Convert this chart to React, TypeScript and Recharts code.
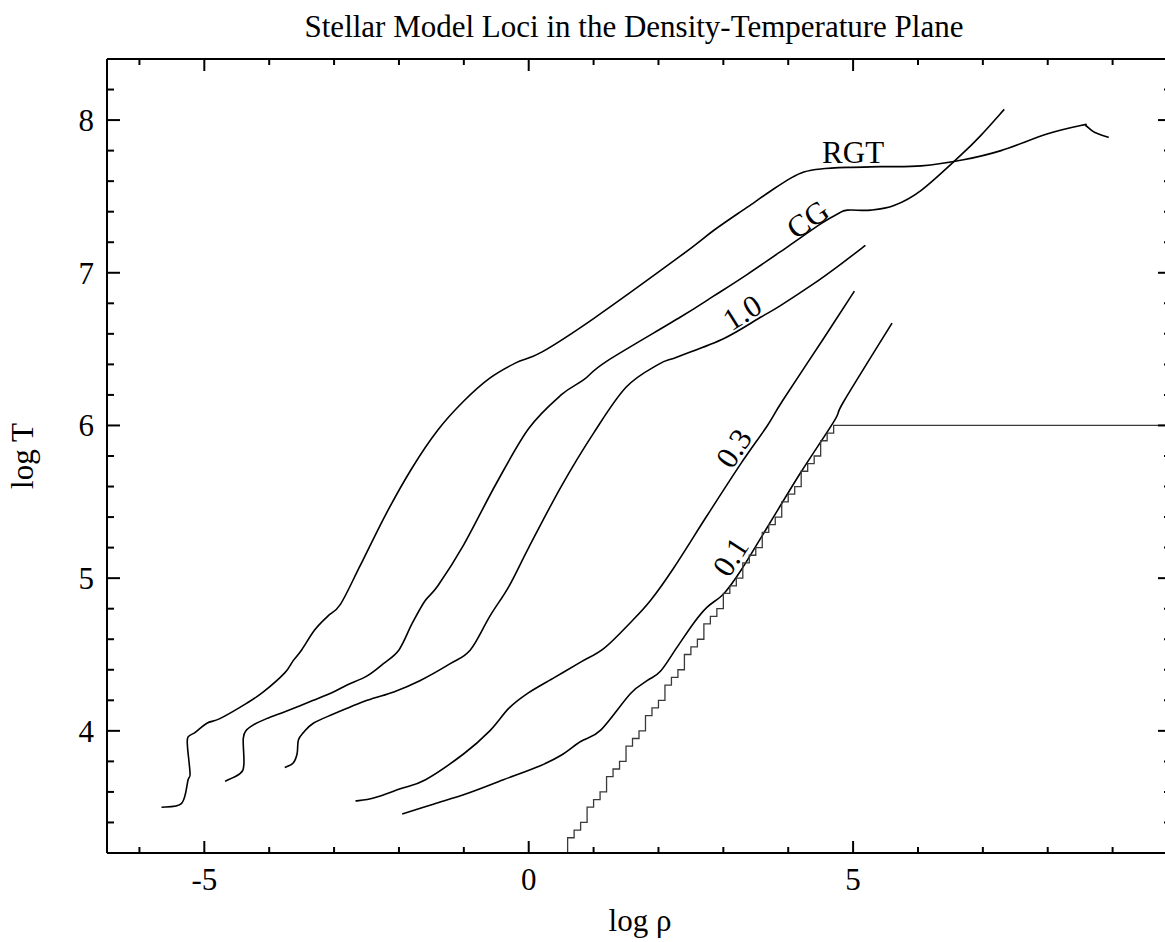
import React from 'react';
import { LineChart, Line, XAxis, YAxis, ReferenceDot } from 'recharts';

// log rho / log T loci
const rgtTrack: [number, number][] = [
  [-5.66, 3.5], [-5.35, 3.525], [-5.25, 3.68], [-5.22, 3.72], [-5.26, 3.9], [-5.25, 3.96],
  [-5.14, 3.99], [-4.96, 4.05], [-4.76, 4.08], [-4.35, 4.18], [-4.09, 4.255], [-3.76, 4.38],
  [-3.63, 4.46], [-3.5, 4.53], [-3.3, 4.66], [-3.1, 4.75], [-2.9, 4.83], [-2.6, 5.08],
  [-2.2, 5.42], [-1.8, 5.72], [-1.4, 5.97], [-1.0, 6.16], [-0.6, 6.31], [-0.2, 6.41],
  [0.2, 6.48], [1.0, 6.7], [2.34, 7.11], [2.86, 7.28], [3.37, 7.43], [3.78, 7.55],
  [4.04, 7.62], [4.24, 7.66], [4.5, 7.68], [4.91, 7.69], [5.43, 7.695], [6.05, 7.7],
  [6.7, 7.74], [7.28, 7.8], [8.0, 7.91], [8.54, 7.967], [8.59, 7.963], [8.72, 7.92], [8.94, 7.886],
];

const cgTrack: [number, number][] = [
  [-4.68, 3.67], [-4.45, 3.72], [-4.39, 3.78], [-4.4, 3.95], [-4.35, 4.005], [-4.24, 4.04],
  [-4.04, 4.08], [-3.73, 4.13], [-3.32, 4.2], [-3.01, 4.255], [-2.8, 4.3], [-2.49, 4.36],
  [-2.24, 4.44], [-2.0, 4.53], [-1.8, 4.7], [-1.6, 4.85], [-1.4, 4.95], [-1.0, 5.22],
  [-0.5, 5.62], [0.0, 5.98], [0.5, 6.2], [0.85, 6.3], [1.2, 6.42], [2.34, 6.71],
  [2.86, 6.85], [3.37, 6.99], [3.99, 7.17], [4.5, 7.32], [4.76, 7.385], [4.91, 7.41],
  [5.27, 7.41], [5.63, 7.44], [6.05, 7.54], [6.66, 7.77], [6.97, 7.9], [7.33, 8.07],
];

const oneTrack: [number, number][] = [
  [-3.76, 3.76], [-3.63, 3.79], [-3.57, 3.85], [-3.55, 3.94], [-3.47, 3.99], [-3.32, 4.05],
  [-3.01, 4.11], [-2.49, 4.2], [-2.08, 4.255], [-1.67, 4.33], [-1.21, 4.44], [-0.9, 4.53],
  [-0.6, 4.75], [-0.3, 4.95], [0.0, 5.2], [0.5, 5.6], [1.0, 5.95], [1.5, 6.25], [2.0, 6.4],
  [2.3, 6.45], [3.01, 6.57], [3.58, 6.71], [3.88, 6.785], [4.4, 6.93], [4.76, 7.04], [5.19, 7.18],
];

const pointThreeTrack: [number, number][] = [
  [-2.67, 3.54], [-2.39, 3.56], [-1.98, 3.62], [-1.59, 3.68], [-1.0, 3.85], [-0.6, 4.0],
  [-0.3, 4.15], [0.0, 4.25], [0.4, 4.35], [0.8, 4.45], [1.16, 4.54], [1.57, 4.71], [1.88, 4.855],
  [2.24, 5.07], [2.75, 5.41], [3.27, 5.75], [3.68, 6.0], [3.91, 6.16], [4.53, 6.56], [5.02, 6.88],
];

const pointOneTrack: [number, number][] = [
  [-1.95, 3.455], [-1.47, 3.52], [-0.95, 3.59], [-0.39, 3.68], [0.17, 3.77], [0.5, 3.84],
  [0.8, 3.93], [1.11, 4.005], [1.57, 4.245], [1.83, 4.33], [2.03, 4.39], [2.29, 4.55],
  [2.55, 4.71], [2.75, 4.81], [3.01, 4.9], [3.27, 5.05], [3.68, 5.335], [4.19, 5.69],
  [4.71, 6.03], [4.86, 6.16], [5.6, 6.67],
];

// stepped boundary (grid-resolved), drawn stepBefore
const boundaryStairs: [number, number][] = [
  [0.6, 3.2], [0.7, 3.3], [0.8, 3.35], [0.9, 3.4], [1.0, 3.5], [1.1, 3.55], [1.2, 3.6],
  [1.3, 3.7], [1.4, 3.75], [1.5, 3.8], [1.6, 3.9], [1.7, 3.95], [1.8, 4.0], [1.9, 4.1],
  [2.0, 4.15], [2.1, 4.2], [2.2, 4.3], [2.3, 4.35], [2.4, 4.4], [2.5, 4.5], [2.6, 4.55],
  [2.7, 4.6], [2.8, 4.7], [2.9, 4.75], [3.0, 4.8], [3.1, 4.9], [3.2, 4.95], [3.3, 5.0],
  [3.4, 5.1], [3.5, 5.15], [3.6, 5.2], [3.7, 5.3], [3.8, 5.35], [3.9, 5.4], [4.0, 5.5],
  [4.1, 5.55], [4.2, 5.6], [4.3, 5.7], [4.4, 5.75], [4.5, 5.8], [4.6, 5.9], [4.7, 5.95],
  [9.9, 6.0],
];

const curveLabels = [
  { text: 'RGT', x: 5.0, y: 7.785, angle: 0 },
  { text: 'CG', x: 4.3, y: 7.35, angle: -35 },
  { text: '1.0', x: 3.29, y: 6.74, angle: -32 },
  { text: '0.3', x: 3.16, y: 5.85, angle: -57 },
  { text: '0.1', x: 3.11, y: 5.14, angle: -57 },
];

const xTicks = [-6, -5, -4, -3, -2, -1, 0, 1, 2, 3, 4, 5, 6, 7, 8, 9];
const yTicks = [3.4, 3.6, 3.8, 4, 4.2, 4.4, 4.6, 4.8, 5, 5.2, 5.4, 5.6, 5.8, 6, 6.2, 6.4, 6.6, 6.8, 7, 7.2, 7.4, 7.6, 7.8, 8, 8.2];

const toRows = (pts: [number, number][]) => pts.map(([x, y]) => ({ x, y }));

const FONT = '"Liberation Serif", "Times New Roman", serif';
const isMajor = (v: number) => Math.abs(v - Math.round(v)) < 1e-6;

// Catmull-Rom style smoothing so the tracks read as curves, not polylines
const smoothCurve = (context: any) => {
  let pts: number[][] = [];
  return {
    areaStart() {},
    areaEnd() {},
    lineStart() {
      pts = [];
    },
    point(x: number, y: number) {
      pts.push([+x, +y]);
    },
    lineEnd() {
      if (!pts.length) return;
      context.moveTo(pts[0][0], pts[0][1]);
      for (let i = 0; i < pts.length - 1; i++) {
        const p0 = pts[i - 1] || pts[i];
        const p1 = pts[i];
        const p2 = pts[i + 1];
        const p3 = pts[i + 2] || p2;
        context.bezierCurveTo(
          p1[0] + (p2[0] - p0[0]) / 6,
          p1[1] + (p2[1] - p0[1]) / 6,
          p2[0] - (p3[0] - p1[0]) / 6,
          p2[1] - (p3[1] - p1[1]) / 6,
          p2[0],
          p2[1],
        );
      }
    },
  };
};

const BottomTick = (props: any) => {
  const { x, y, payload } = props;
  const major = payload.value % 5 === 0;
  return (
    <g>
      <line x1={x} y1={y} x2={x} y2={y - (major ? 12 : 6)} stroke="#000" strokeWidth={2} />
      {major && (
        <text x={x} y={y + 37} textAnchor="middle" fontSize={31} fontFamily={FONT} fill="#000">
          {payload.value}
        </text>
      )}
    </g>
  );
};

const TopTick = (props: any) => {
  const { x, y, payload } = props;
  const major = payload.value % 5 === 0;
  return <line x1={x} y1={y} x2={x} y2={y + (major ? 12 : 6)} stroke="#000" strokeWidth={2} />;
};

const LeftTick = (props: any) => {
  const { x, y, payload } = props;
  const major = isMajor(payload.value);
  return (
    <g>
      <line x1={x} y1={y} x2={x + (major ? 13 : 7)} y2={y} stroke="#000" strokeWidth={2} />
      {major && (
        <text x={x - 13} y={y + 11} textAnchor="end" fontSize={31} fontFamily={FONT} fill="#000">
          {Math.round(payload.value)}
        </text>
      )}
    </g>
  );
};

const RightTick = (props: any) => {
  const { x, y, payload } = props;
  const major = isMajor(payload.value);
  return <line x1={x} y1={y} x2={x - (major ? 13 : 7)} y2={y} stroke="#000" strokeWidth={2} />;
};

const CurveLabel = ({ cx, cy, text, angle }: any) => (
  <text
    x={cx}
    y={cy}
    transform={`rotate(${angle} ${cx} ${cy})`}
    textAnchor="middle"
    dominantBaseline="central"
    fontSize={31}
    fontFamily={FONT}
    fill="#000"
  >
    {text}
  </text>
);

const tracks = [rgtTrack, cgTrack, oneTrack, pointThreeTrack, pointOneTrack];
const frame = { stroke: '#000', strokeWidth: 2 };

export default function App() {
  return (
    <div style={{ position: 'absolute', left: 0, top: 0, width: 1165, height: 942, overflow: 'hidden', background: '#fff' }}>
      <LineChart width={1172} height={942} margin={{ top: 58, right: 0, bottom: 88, left: 106 }}>
        <XAxis
          xAxisId="b"
          type="number"
          dataKey="x"
          domain={[-6.5, 9.9]}
          allowDataOverflow
          ticks={xTicks}
          interval={0}
          height={1}
          tickSize={0}
          tickMargin={0}
          tick={<BottomTick />}
          axisLine={frame}
        />
        <XAxis
          xAxisId="t"
          orientation="top"
          type="number"
          dataKey="x"
          domain={[-6.5, 9.9]}
          allowDataOverflow
          ticks={xTicks}
          interval={0}
          height={1}
          tickSize={0}
          tickMargin={0}
          tick={<TopTick />}
          axisLine={frame}
        />
        <YAxis
          yAxisId="l"
          type="number"
          domain={[3.2, 8.4]}
          allowDataOverflow
          ticks={yTicks}
          interval={0}
          width={1}
          tickSize={0}
          tickMargin={0}
          tick={<LeftTick />}
          axisLine={frame}
        />
        <YAxis
          yAxisId="r"
          orientation="right"
          type="number"
          domain={[3.2, 8.4]}
          allowDataOverflow
          ticks={yTicks}
          interval={0}
          width={1}
          tickSize={0}
          tickMargin={0}
          tick={<RightTick />}
          axisLine={frame}
        />
        {tracks.map((t, i) => (
          <Line
            key={i}
            xAxisId="b"
            yAxisId="l"
            data={toRows(t)}
            dataKey="y"
            type={smoothCurve as any}
            stroke="#000"
            strokeWidth={1.6}
            dot={false}
            isAnimationActive={false}
          />
        ))}
        <Line
          xAxisId="b"
          yAxisId="l"
          data={toRows(boundaryStairs)}
          dataKey="y"
          type="stepBefore"
          stroke="#3a3a3a"
          strokeWidth={1.3}
          dot={false}
          isAnimationActive={false}
        />
        {curveLabels.map((c) => (
          <ReferenceDot
            key={c.text}
            xAxisId="b"
            yAxisId="l"
            x={c.x}
            y={c.y}
            r={0}
            shape={(p: any) => <CurveLabel cx={p.cx} cy={p.cy} text={c.text} angle={c.angle} />}
          />
        ))}
        <text x={634} y={37} textAnchor="middle" fontSize={31} fontFamily={FONT} fill="#000">
          Stellar Model Loci in the Density-Temperature Plane
        </text>
        <text x={640} y={931} textAnchor="middle" fontSize={31} fontFamily={FONT} fill="#000">
          log ρ
        </text>
        <text x={33} y={456} textAnchor="middle" fontSize={31} fontFamily={FONT} fill="#000" transform="rotate(-90 33 456)">
          log T
        </text>
      </LineChart>
    </div>
  );
}
